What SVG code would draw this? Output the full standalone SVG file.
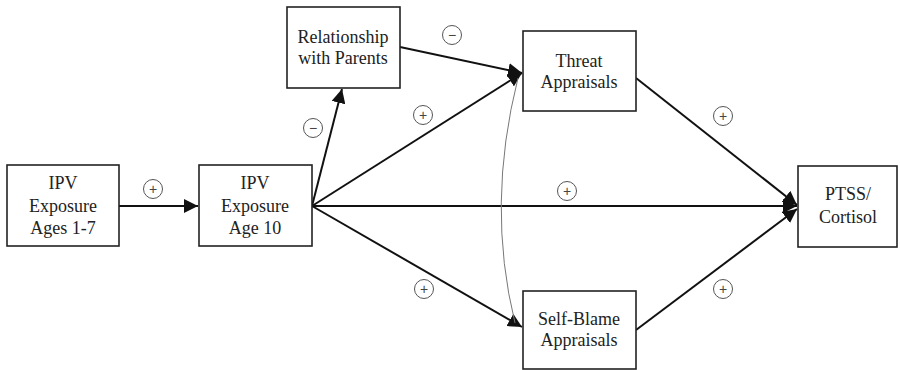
<svg xmlns="http://www.w3.org/2000/svg" width="900" height="370" viewBox="0 0 900 370">
<style>
.box{fill:#fff;stroke:#222;stroke-width:1.6}
.t{font-family:"Liberation Serif","Times New Roman",serif;font-size:18px;fill:#222;text-anchor:middle}
.e{stroke:#111;stroke-width:2;fill:none;marker-end:url(#ah)}
.c{fill:#fff;stroke:#555;stroke-width:1}
.s{font-family:"Liberation Sans",Arial,sans-serif;font-size:14px;fill:#444;text-anchor:middle}
</style>
<defs>
<marker id="ah" viewBox="0 0 10 10" refX="10" refY="5" markerWidth="7" markerHeight="7" markerUnits="strokeWidth" orient="auto">
<path d="M0,0 L10,5 L0,10 z" fill="#111"/>
</marker>
</defs>
<rect width="900" height="370" fill="#fff"/>
<g id="connectors">
<line class="e" x1="119" y1="206" x2="198" y2="206"/>
<line class="e" x1="312" y1="206" x2="342" y2="89"/>
<line class="e" x1="400" y1="47" x2="522" y2="73"/>
<line class="e" x1="312" y1="206" x2="522" y2="73"/>
<line class="e" x1="312" y1="206" x2="797" y2="206"/>
<line class="e" x1="312" y1="206" x2="522" y2="327"/>
<line class="e" x1="636" y1="78" x2="797" y2="205"/>
<line class="e" x1="636" y1="330" x2="797" y2="209"/>
<path d="M518,78 Q486,205 515,323" fill="none" stroke="#777" stroke-width="1"/>
</g>
<g id="signs">
<circle class="c" cx="153" cy="189" r="9.5"/><text class="s" x="153" y="194">+</text>
<circle class="c" cx="313" cy="128" r="9.5"/><text class="s" x="313" y="133">−</text>
<circle class="c" cx="452" cy="35" r="9.5"/><text class="s" x="452" y="40">−</text>
<circle class="c" cx="423" cy="115" r="9.5"/><text class="s" x="423" y="120">+</text>
<circle class="c" cx="567" cy="191" r="9.5"/><text class="s" x="567" y="196">+</text>
<circle class="c" cx="424" cy="289" r="9.5"/><text class="s" x="424" y="294">+</text>
<circle class="c" cx="723" cy="116" r="9.5"/><text class="s" x="723" y="121">+</text>
<circle class="c" cx="723" cy="289" r="9.5"/><text class="s" x="723" y="294">+</text>
</g>
<g id="ipv17">
<rect class="box" x="7" y="165" width="112" height="81"/>
<text class="t" x="63" y="189">IPV</text>
<text class="t" x="63" y="212">Exposure</text>
<text class="t" x="63" y="234">Ages 1-7</text>
</g>
<g id="ipv10">
<rect class="box" x="199" y="165" width="113" height="81"/>
<text class="t" x="255" y="189">IPV</text>
<text class="t" x="255" y="212">Exposure</text>
<text class="t" x="255" y="234">Age 10</text>
</g>
<g id="relationship">
<rect class="box" x="287" y="7" width="113" height="81"/>
<text class="t" x="343" y="43">Relationship</text>
<text class="t" x="343" y="64">with Parents</text>
</g>
<g id="threat">
<rect class="box" x="523" y="31" width="113" height="80"/>
<text class="t" x="579" y="67">Threat</text>
<text class="t" x="579" y="88">Appraisals</text>
</g>
<g id="selfblame">
<rect class="box" x="523" y="291" width="113" height="78"/>
<text class="t" x="579" y="325">Self-Blame</text>
<text class="t" x="579" y="346">Appraisals</text>
</g>
<g id="ptss">
<rect class="box" x="798" y="166" width="99" height="81"/>
<text class="t" x="848" y="200">PTSS/</text>
<text class="t" x="848" y="223">Cortisol</text>
</g>
</svg>
